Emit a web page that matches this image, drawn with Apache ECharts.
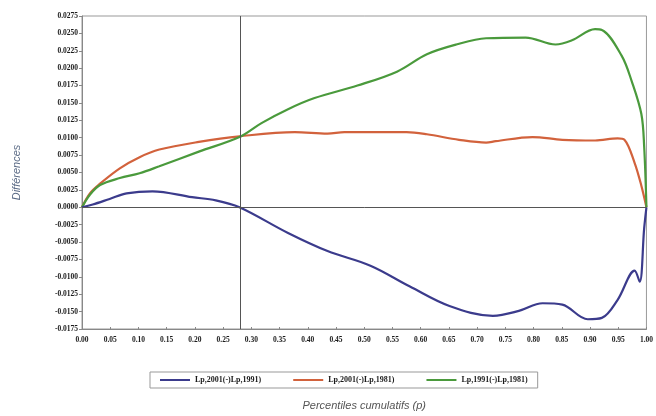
<!DOCTYPE html>
<html><head><meta charset="utf-8">
<script src="https://cdn.jsdelivr.net/npm/echarts@6/dist/echarts.min.js"></script>
<style>html,body{margin:0;padding:0;background:#fff}#c{width:656px;height:416px}</style>
</head><body><div id="c"></div>
<script>
const seriesNames = ['Lp,2001(-)Lp,1991)', 'Lp,2001(-)Lp,1981)', 'Lp,1991(-)Lp,1981)'];
const blueP = [0,0.019,0.049,0.079,0.125,0.195,0.237,0.279,0.365,0.435,0.511,0.581,0.651,0.728,0.774,0.816,0.851,0.896,0.921,0.949,0.979,0.988,0.996,1.0];
const blueV = [0,0.0004,0.0012,0.0020,0.0023,0.00145,0.0010,0.0000,-0.0037,-0.0063,-0.0084,-0.0114,-0.0142,-0.0156,-0.0149,-0.0138,-0.0140,-0.0161,-0.0159,-0.0133,-0.0091,-0.0107,-0.0030,0];
const redP = [0,0.014,0.032,0.067,0.102,0.137,0.207,0.279,0.377,0.435,0.465,0.575,0.611,0.668,0.716,0.733,0.798,0.851,0.909,0.949,0.961,0.979,0.991,1.0];
const redV = [0,0.0020,0.0034,0.0056,0.0072,0.0083,0.0094,0.0102,0.0108,0.0106,0.0108,0.0108,0.0105,0.0097,0.0093,0.0095,0.0101,0.0097,0.0096,0.0099,0.0097,0.0064,0.0031,0];
const greenP = [0,0.014,0.032,0.067,0.102,0.137,0.207,0.279,0.318,0.365,0.412,0.488,0.558,0.611,0.663,0.716,0.786,0.839,0.868,0.909,0.921,0.956,0.974,0.991,0.996,1.0];
const greenV = [0,0.0018,0.0032,0.0042,0.0049,0.0059,0.0080,0.0101,0.0121,0.0141,0.0157,0.0175,0.0195,0.0220,0.0234,0.0243,0.0244,0.0234,0.0240,0.0256,0.0255,0.0218,0.0181,0.0134,0.0087,0];
const refP = 0.279;

const zip = (a, b) => a.map((p, i) => [p, b[i]]);
const lblFont = {fontFamily: 'Liberation Serif', fontWeight: 'bold', fontSize: 7.5, color: '#1a1a1a'};
const chart = echarts.init(document.getElementById('c'));
chart.setOption({
  animation: false,
  backgroundColor: '#fff',
  grid: {left: 82, right: 4, top: 16, bottom: 79, show: true, borderColor: '#999', borderWidth: 1},
  legend: {
    bottom: 28, left: 150, itemGap: 32, itemWidth: 30, itemHeight: 2,
    icon: 'rect', borderColor: '#999', borderWidth: 1, padding: [4, 10],
    textStyle: Object.assign({}, lblFont, {fontSize: 8}),
    data: seriesNames
  },
  xAxis: {
    type: 'value', min: 0, max: 1, interval: 0.05,
    name: 'Percentiles cumulatifs (p)', nameLocation: 'middle', nameGap: 71,
    nameTextStyle: {fontFamily: 'Liberation Sans', fontStyle: 'italic', fontSize: 11, color: '#555'},
    axisLine: {onZero: false, lineStyle: {color: '#888'}},
    axisTick: {inside: true, length: 2, lineStyle: {color: '#888'}},
    splitLine: {show: false},
    axisLabel: Object.assign({formatter: v => v.toFixed(2), margin: 7}, lblFont)
  },
  yAxis: {
    type: 'value', min: -0.0175, max: 0.0275, interval: 0.0025,
    name: 'Différences', nameLocation: 'middle', nameGap: 60, nameRotate: 90,
    nameTextStyle: {fontFamily: 'Liberation Sans', fontStyle: 'italic', fontSize: 11, color: '#5a6a85'},
    axisLine: {show: true, lineStyle: {color: '#888'}},
    axisTick: {show: true, length: 3, lineStyle: {color: '#888'}},
    splitLine: {show: false},
    axisLabel: Object.assign({formatter: v => v.toFixed(4), margin: 4}, lblFont)
  },
  series: [
    {name: seriesNames[0], type: 'line', data: zip(blueP, blueV), smooth: 0.35, showSymbol: false,
     lineStyle: {color: '#3b3b8c', width: 2.2}, itemStyle: {color: '#3b3b8c'}, z: 3,
     markLine: {silent: true, symbol: 'none', label: {show: false},
       lineStyle: {color: '#555', width: 1, type: 'solid'},
       data: [{xAxis: refP}, {yAxis: 0}]}},
    {name: seriesNames[1], type: 'line', data: zip(redP, redV), smooth: 0.35, showSymbol: false,
     lineStyle: {color: '#d2623c', width: 2.2}, itemStyle: {color: '#d2623c'}, z: 2},
    {name: seriesNames[2], type: 'line', data: zip(greenP, greenV), smooth: 0.35, showSymbol: false,
     lineStyle: {color: '#4a9a3c', width: 2.2}, itemStyle: {color: '#4a9a3c'}, z: 2}
  ]
});
</script></body></html>
